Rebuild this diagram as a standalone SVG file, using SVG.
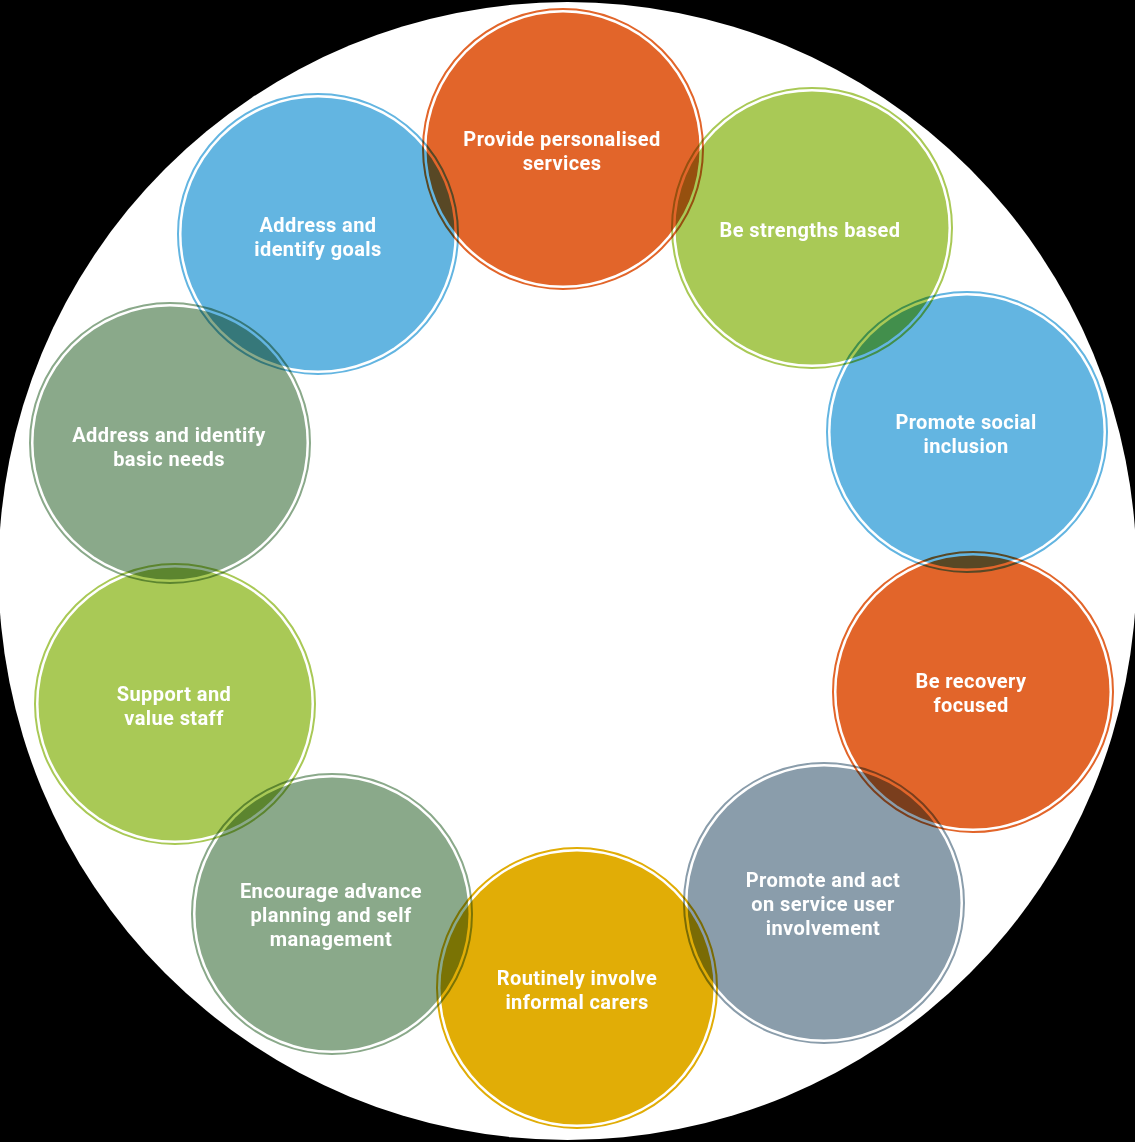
<svg xmlns="http://www.w3.org/2000/svg" width="1135" height="1142" viewBox="0 0 1135 1142">
<style>
.ring{fill:none;stroke-width:2;mix-blend-mode:multiply}
.disc{mix-blend-mode:multiply}
.lbl{font-family:Roboto,"Liberation Sans",sans-serif;font-weight:700;font-size:20px;letter-spacing:0.4px;fill:#ffffff;text-anchor:middle}
.orange{fill:#e2652a;stroke:#e2652a}
.green{fill:#a9c956;stroke:#a9c956}
.blue{fill:#63b5e1;stroke:#63b5e1}
.sage{fill:#8aa98a;stroke:#8aa98a}
.slate{fill:#8a9dab;stroke:#8a9dab}
.yellow{fill:#e1ad06;stroke:#e1ad06}
.ring.orange,.ring.green,.ring.blue,.ring.sage,.ring.slate,.ring.yellow{fill:none}
.disc{stroke:none}
</style>
<rect x="0" y="0" width="1135" height="1142" fill="#000000"/>
<circle cx="567.5" cy="571" r="569" fill="#ffffff"/>
<g id="connectors"/>
<g id="node-personalised">
<circle class="ring orange" cx="563" cy="149" r="140"/>
<circle class="disc orange" cx="563" cy="149" r="136.5"/>
<text class="lbl" x="562" y="146">Provide personalised<tspan x="562" dy="24">services</tspan></text>
</g>
<g id="node-strengths">
<circle class="ring green" cx="812" cy="228" r="140"/>
<circle class="disc green" cx="812" cy="228" r="136.5"/>
<text class="lbl" x="810" y="237">Be strengths based</text>
</g>
<g id="node-inclusion">
<circle class="ring blue" cx="967" cy="432" r="140"/>
<circle class="disc blue" cx="967" cy="432" r="136.5"/>
<text class="lbl" x="966" y="429">Promote social<tspan x="966" dy="24">inclusion</tspan></text>
</g>
<g id="node-recovery">
<circle class="ring orange" cx="973" cy="692" r="140"/>
<circle class="disc orange" cx="973" cy="692" r="136.5"/>
<text class="lbl" x="971" y="688">Be recovery<tspan x="971" dy="24">focused</tspan></text>
</g>
<g id="node-involvement">
<circle class="ring slate" cx="824" cy="903" r="140"/>
<circle class="disc slate" cx="824" cy="903" r="136.5"/>
<text class="lbl" x="823" y="887">Promote and act<tspan x="823" dy="24">on service user</tspan><tspan x="823" dy="24">involvement</tspan></text>
</g>
<g id="node-carers">
<circle class="ring yellow" cx="577" cy="988" r="140"/>
<circle class="disc yellow" cx="577" cy="988" r="136.5"/>
<text class="lbl" x="577" y="985">Routinely involve<tspan x="577" dy="24">informal carers</tspan></text>
</g>
<g id="node-planning">
<circle class="ring sage" cx="332" cy="914" r="140"/>
<circle class="disc sage" cx="332" cy="914" r="136.5"/>
<text class="lbl" x="331" y="898">Encourage advance<tspan x="331" dy="24">planning and self</tspan><tspan x="331" dy="24">management</tspan></text>
</g>
<g id="node-staff">
<circle class="ring green" cx="175" cy="704" r="140"/>
<circle class="disc green" cx="175" cy="704" r="136.5"/>
<text class="lbl" x="174" y="701">Support and<tspan x="174" dy="24">value staff</tspan></text>
</g>
<g id="node-needs">
<circle class="ring sage" cx="170" cy="443" r="140"/>
<circle class="disc sage" cx="170" cy="443" r="136.5"/>
<text class="lbl" x="169" y="442">Address and identify<tspan x="169" dy="24">basic needs</tspan></text>
</g>
<g id="node-goals">
<circle class="ring blue" cx="318" cy="234" r="140"/>
<circle class="disc blue" cx="318" cy="234" r="136.5"/>
<text class="lbl" x="318" y="232">Address and<tspan x="318" dy="24">identify goals</tspan></text>
</g>
</svg>
